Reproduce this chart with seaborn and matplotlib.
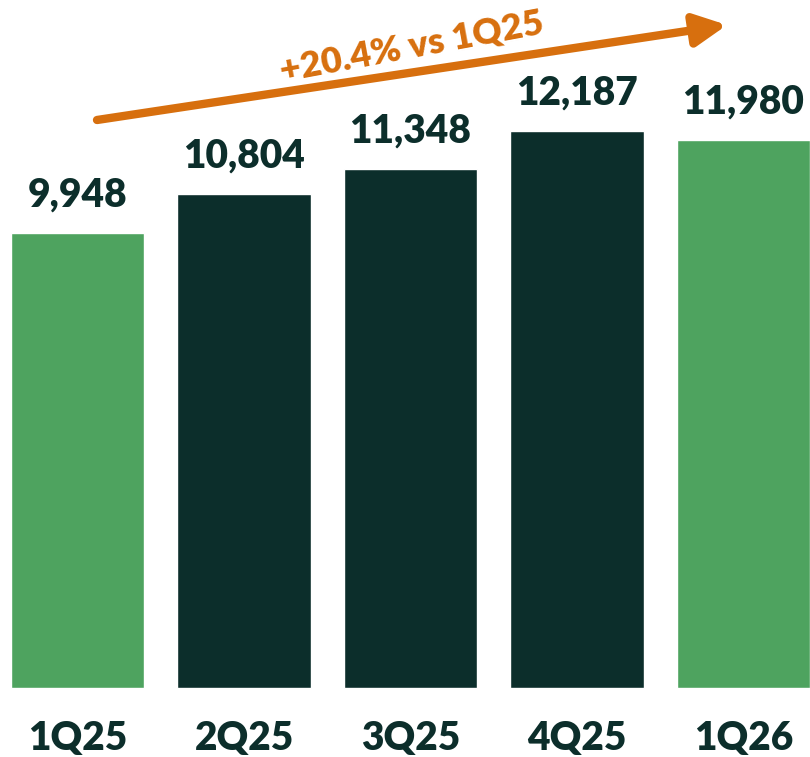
import matplotlib
matplotlib.use("Agg")
import matplotlib.pyplot as plt
import seaborn as sns
import pandas as pd

quarters = ["1Q25", "2Q25", "3Q25", "4Q25", "1Q26"]
values = [9948, 10804, 11348, 12187, 11980]
highlight = [True, False, False, False, True]
growth_label = "+20.4% vs 1Q25"

GREEN = "#4EA35F"
DARK = "#0C2E2B"
ORANGE = "#D76F0E"

sns.set_theme(style="white")
plt.rcParams["font.family"] = ["Lato", "DejaVu Sans"]

df = pd.DataFrame({"quarter": quarters, "value": values})
palette = {q: (GREEN if h else DARK) for q, h in zip(quarters, highlight)}

fig = plt.figure(figsize=(8.10, 7.57), dpi=100)
ax = fig.add_axes([0, 0, 1, 1])
sns.barplot(data=df, x="quarter", y="value", hue="quarter", palette=palette,
            width=0.8, saturation=1, legend=False, ax=ax)

ax.set_xlim(-0.466, 4.40)
ax.set_ylim(-1508, 15042)
for s in ax.spines.values():
    s.set_visible(False)
ax.set_xticks([])
ax.set_yticks([])
ax.set_xlabel("")
ax.set_ylabel("")

for i, (q, v) in enumerate(zip(quarters, values)):
    ax.annotate(f"{v:,}", (i, v), xytext=(0, 14), textcoords="offset points",
                ha="center", va="bottom", fontsize=28, fontweight="heavy", color=DARK)
    ax.text(i, -1100, q, ha="center", va="center", fontsize=28,
            fontweight="heavy", color=DARK)

# growth arrow (figure pixel coords)
ax.annotate("", xy=(727 / 810, 1 - 25 / 757), xytext=(97 / 810, 1 - 120 / 757),
            xycoords="figure fraction", textcoords="figure fraction",
            arrowprops=dict(arrowstyle="-|>,head_length=1.6,head_width=0.8",
                            color=ORANGE, lw=6, shrinkA=0, shrinkB=0))
fig.text(412 / 810, 1 - 47 / 757, growth_label, rotation=10.5, ha="center", va="center",
         fontsize=26, fontweight="heavy", color=ORANGE, rotation_mode="anchor")

fig.savefig("out.png", dpi=100)
